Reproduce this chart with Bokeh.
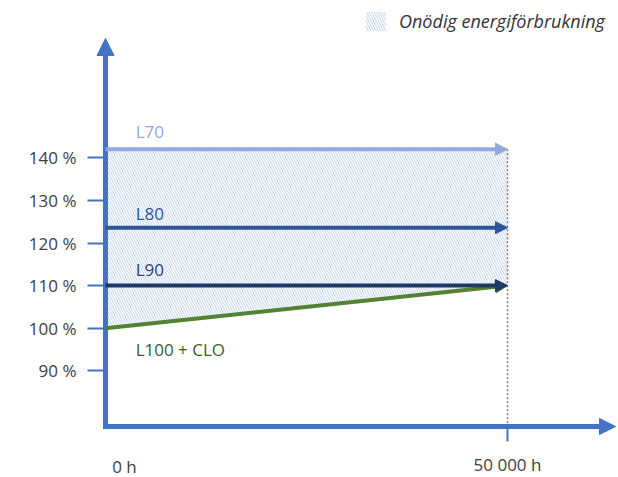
from bokeh.plotting import figure
from bokeh.models import Range1d, FixedTicker, Arrow, NormalHead, LinearAxis
from bokeh.core.properties import value
from bokeh.embed import file_html
from bokeh.resources import INLINE

# ---------------- data ----------------
hours = [0, 50000]
series_names = ["L70", "L80", "L90"]
series_levels = [142.0, 123.6, 110.0]          # % (constant over time)
clo_name = "L100 + CLO"
clo_levels = [100.0, 110.0]                     # % at 0 h and 50 000 h
y_ticks = [90, 100, 110, 120, 130, 140]
y_tick_labels = ["90 %", "100 %", "110 %", "120 %", "130 %", "140 %"]
x_tick_labels = ["0 h", "50 000 h"]
legend_text = "Onödig energiförbrukning"

# ---------------- style / layout ----------------
FONT = "Open Sans"
AXIS_BLUE = "#4472C4"
series_colors = ["#8FAADC", "#2F5597", "#1F3864"]
series_text_colors = ["#8FAADC", "#2F5597", "#2E4470"]
clo_color = "#548235"
clo_text_color = "#3B5E2A"
label_offsets = [-18, -14, -16]   # px above each line
TEXT_GREY = "#404040"

# plot area covers the whole canvas; axes are placed at fixed data locations
W, H = 618, 477
X0_PX, Y100_PX = 105, 327.7        # pixel of 0 h and of 100 %
PX_PER_H = 402 / 50000
PX_PER_PCT = 4.26
x_lo = -X0_PX / PX_PER_H
x_hi = (W - X0_PX) / PX_PER_H
y_hi = 100 + Y100_PX / PX_PER_PCT
y_lo = 100 - (H - Y100_PX) / PX_PER_PCT

axis_y_pos = 100 - (426 - Y100_PX) / PX_PER_PCT     # x axis height (data)
axis_top = 100 + (Y100_PX - 38) / PX_PER_PCT         # y arrow tip
axis_right = (615 - X0_PX) / PX_PER_H                # x arrow tip

p = figure(width=W, height=H, output_backend="svg", toolbar_location=None, title=None,
           x_range=Range1d(x_lo, x_hi), y_range=Range1d(y_lo, y_hi),
           x_axis_type=None, y_axis_type=None,
           min_border=0, min_border_left=0, min_border_right=0, min_border_top=0, min_border_bottom=0,
           outline_line_color=None, background_fill_color="white", border_fill_color="white")
p.grid.visible = False

yaxis = LinearAxis(fixed_location=hours[0], bounds=(axis_y_pos, axis_top - 6 / PX_PER_PCT),
                   ticker=FixedTicker(ticks=y_ticks),
                   major_label_overrides={t: s for t, s in zip(y_ticks, y_tick_labels)},
                   axis_line_color=AXIS_BLUE, axis_line_width=5,
                   major_tick_line_color=AXIS_BLUE, major_tick_line_width=2,
                   major_tick_out=18, major_tick_in=0,
                   minor_tick_line_color=None, major_label_standoff=11,
                   major_label_text_font=FONT, major_label_text_font_size="17px",
                   major_label_text_color=TEXT_GREY)
p.add_layout(yaxis, "left")

xaxis = LinearAxis(fixed_location=axis_y_pos, bounds=(hours[0], axis_right - 6 / PX_PER_H),
                   ticker=FixedTicker(ticks=[hours[1]]),
                   major_label_overrides={hours[1]: x_tick_labels[1]},
                   axis_line_color=AXIS_BLUE, axis_line_width=5, axis_line_cap="square",
                   major_tick_line_color=AXIS_BLUE, major_tick_line_width=2,
                   major_tick_out=15, major_tick_in=0,
                   minor_tick_line_color=None, major_label_standoff=11,
                   major_label_text_font=FONT, major_label_text_font_size="17px",
                   major_label_text_color=TEXT_GREY)
p.add_layout(xaxis, "below")

# hatched "unnecessary energy" area between CLO line and L70
p.varea(x=hours, y1=clo_levels, y2=[series_levels[0]] * 2,
        fill_color=None, fill_alpha=0,
        hatch_pattern="left_diagonal_line", hatch_color="#C3D3EC",
        hatch_scale=5, hatch_weight=1, legend_label=legend_text)

# dotted vertical marker at 50 000 h
p.segment(x0=[hours[1]], y0=[series_levels[0]], x1=[hours[1]], y1=[axis_y_pos],
          line_color="#7F7F7F", line_width=1.5, line_dash="2 2")

# axis arrow heads
p.add_layout(Arrow(x_start=hours[0], y_start=axis_top - 8 / PX_PER_PCT, x_end=hours[0], y_end=axis_top,
                   line_color=AXIS_BLUE, line_width=5,
                   end=NormalHead(size=17, fill_color=AXIS_BLUE, line_color=AXIS_BLUE, line_width=1)))
p.add_layout(Arrow(x_start=axis_right - 8 / PX_PER_H, y_start=axis_y_pos, x_end=axis_right, y_end=axis_y_pos,
                   line_color=AXIS_BLUE, line_width=5,
                   end=NormalHead(size=16, fill_color=AXIS_BLUE, line_color=AXIS_BLUE, line_width=1)))

# CLO arrow
p.add_layout(Arrow(x_start=hours[0], y_start=clo_levels[0], x_end=hours[1], y_end=clo_levels[1],
                   line_color=clo_color, line_width=4,
                   end=NormalHead(size=12, fill_color=clo_color, line_color=clo_color, line_width=1)))

# L-series arrows
for lvl, col in zip(series_levels, series_colors):
    p.add_layout(Arrow(x_start=hours[0], y_start=lvl, x_end=hours[1], y_end=lvl,
                       line_color=col, line_width=4,
                       end=NormalHead(size=12, fill_color=col, line_color=col, line_width=1)))

label_x = 0.075 * hours[1]
p.text(x=[label_x] * len(series_names), y=series_levels, text=series_names,
       text_color=series_text_colors, y_offset=label_offsets,
       text_font=value(FONT), text_font_size="17px", text_baseline="middle", text_align="left")
p.text(x=[label_x], y=[clo_levels[0]], text=[clo_name], text_color=clo_text_color, y_offset=21,
       text_font=value(FONT), text_font_size="17px", text_baseline="middle", text_align="left")

# "0 h" label below the origin
p.text(x=[hours[0]], y=[axis_y_pos], text=[x_tick_labels[0]], x_offset=19, y_offset=40,
       text_font=value(FONT), text_font_size="17px", text_color=TEXT_GREY,
       text_align="center", text_baseline="middle")

# legend
lg = p.legend[0]
lg.location = (363, H - 33)
lg.padding = 0
lg.margin = 0
lg.border_line_color = None
lg.background_fill_alpha = 0
lg.glyph_width = 25
lg.glyph_height = 24
lg.label_standoff = 11
lg.label_text_font = FONT
lg.label_text_font_style = "italic"
lg.label_text_font_size = "18px"
lg.label_text_color = "#333333"

open("out.html", "w").write(file_html(p, INLINE))
